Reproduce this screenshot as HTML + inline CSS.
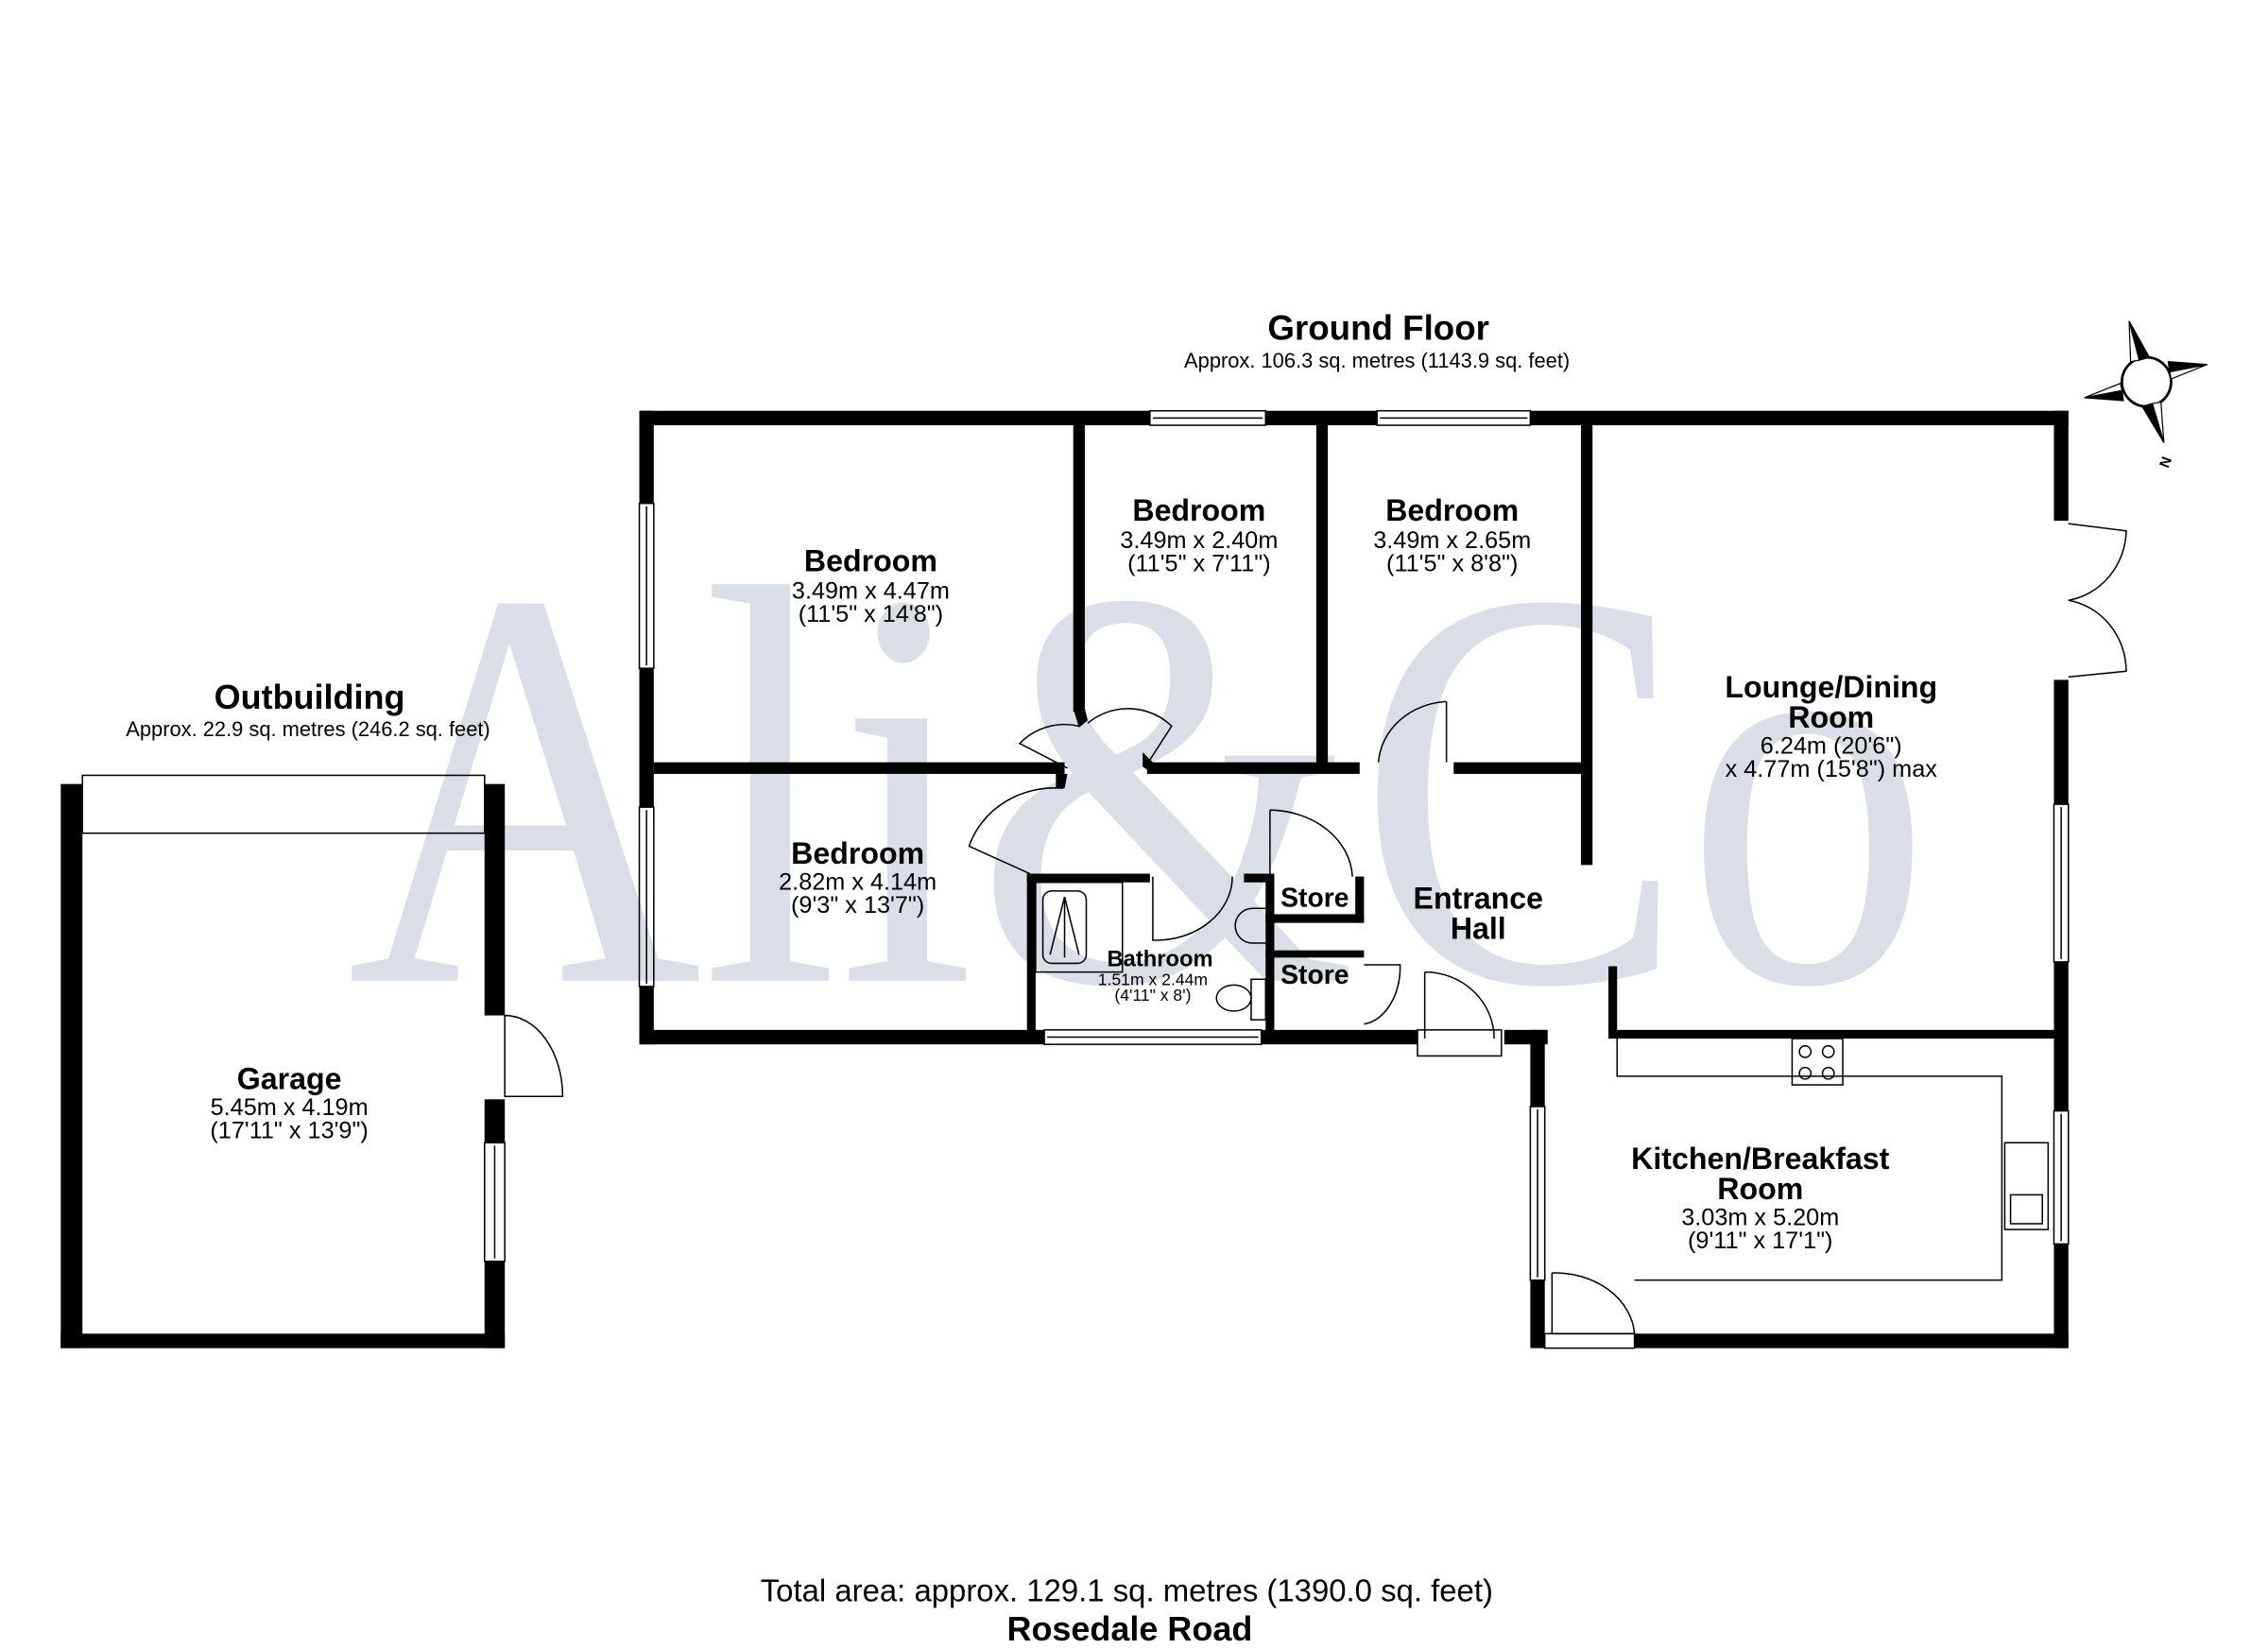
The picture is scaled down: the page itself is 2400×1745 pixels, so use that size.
<!DOCTYPE html>
<html><head><meta charset="utf-8"><style>html,body{margin:0;padding:0;background:#fff}svg{display:block}</style></head>
<body>
<svg width="2400" height="1745" viewBox="0 0 1568 1140" preserveAspectRatio="none" xmlns="http://www.w3.org/2000/svg" font-family="Liberation Sans, Arial, sans-serif">
<rect width="1568" height="1140" fill="#fff"/>
<text x="240" y="678" font-family="Liberation Serif, serif" font-size="395" fill="#d9dee7" textLength="1095" lengthAdjust="spacingAndGlyphs">Ali&amp;Co</text>

<g fill="#000">
<rect x="442" y="284" width="353" height="10"/>
<rect x="875" y="284" width="77" height="10"/>
<rect x="1058" y="284" width="372" height="10"/>
<rect x="442" y="284" width="10" height="64"/>
<rect x="442" y="462" width="10" height="96"/>
<rect x="442" y="682" width="10" height="40"/>
<rect x="442" y="712" width="280" height="10"/>
<rect x="872" y="712" width="108" height="10"/>
<rect x="1040" y="712" width="30" height="10"/>
<rect x="1420" y="284" width="10" height="76"/>
<rect x="1420" y="470" width="10" height="86"/>
<rect x="1420" y="665" width="10" height="103"/>
<rect x="1420" y="860" width="10" height="72"/>
<rect x="1058" y="712" width="10" height="53"/>
<rect x="1058" y="885" width="10" height="47"/>
<rect x="1130" y="922" width="300" height="10"/>
<rect x="1112" y="712" width="308" height="6"/>
<rect x="1112" y="668" width="6" height="50"/>
<rect x="742" y="294" width="8" height="198"/>
<polygon points="742,490 750,490 752,498 746,503"/>
<rect x="910" y="294" width="8" height="234"/>
<rect x="1093" y="294" width="8" height="304"/>
<rect x="452" y="527" width="284" height="8"/>
<polygon points="730,535 738,535 736,545 730,545"/>
<rect x="793" y="527" width="147" height="8"/>
<polygon points="790,520 797,527 797,535 790,530"/>
<rect x="1005" y="527" width="88" height="8"/>
<rect x="710" y="604" width="6" height="110"/>
<rect x="710" y="604" width="85" height="6"/>
<rect x="860" y="604" width="15" height="6"/>
<rect x="875" y="604" width="6" height="110"/>
<rect x="875" y="632" width="68" height="6"/>
<rect x="937" y="606" width="6" height="32"/>
<rect x="875" y="657" width="68" height="5"/>
<rect x="42" y="542" width="15" height="390"/>
<rect x="42" y="922" width="307" height="10"/>
<rect x="335" y="542" width="14" height="160"/>
<rect x="335" y="760" width="14" height="30"/>
<rect x="335" y="872" width="14" height="60"/>
</g>
<g fill="none" stroke="#000" stroke-width="1">
<rect x="795" y="284" width="80" height="10"/><line x1="797" y1="289" x2="873" y2="289"/>
<rect x="952" y="284" width="106" height="10"/><line x1="954" y1="289" x2="1056" y2="289"/>
<rect x="442" y="348" width="10" height="114"/><line x1="447" y1="350" x2="447" y2="460"/>
<rect x="442" y="558" width="10" height="124"/><line x1="447" y1="560" x2="447" y2="680"/>
<rect x="722" y="712" width="150" height="10"/><line x1="724" y1="717" x2="870" y2="717"/>
<rect x="1420" y="556" width="10" height="109"/><line x1="1425" y1="558" x2="1425" y2="663"/>
<rect x="1420" y="768" width="10" height="92"/><line x1="1425" y1="770" x2="1425" y2="858"/>
<rect x="1058" y="765" width="10" height="120"/><line x1="1063" y1="767" x2="1063" y2="883"/>
<rect x="335" y="790" width="14" height="82"/><line x1="342" y1="792" x2="342" y2="870"/>
<rect x="1068" y="922" width="62" height="10"/>
<rect x="57" y="536" width="278" height="40"/>
<path d="M1430 362 L1470 367 A 48 50 0 0 1 1430 415"/>
<path d="M1430 468 L1470 464 A 48 50 0 0 0 1430 415"/>
<path d="M349 702 L349 758 L389 758 A 40 56 0 0 0 349 702"/>
<path d="M738 531 L705 514 A 42 40 0 0 1 746 502"/>
<path d="M792 530 L810 502 A 42 40 0 0 0 752 500"/>
<path d="M712 604 L670 585 A 62 58 0 0 1 735 545"/>
<path d="M1000 485 L1000 527 M1000 485 A 50 45 0 0 0 953 527"/>
<path d="M797 606 L797 650 A 53 44 0 0 0 852 606"/>
<path d="M878 560 L878 606 M878 560 A 58 48 0 0 1 935 606"/>
<path d="M943 667 L968 667 A 28 40 0 0 1 943 708"/>
<path d="M985 672 L985 718 M985 672 A 48 46 0 0 1 1033 718"/>
<rect x="980" y="712" width="58" height="18"/>
<path d="M1073 880 L1073 922 L1130 922 A 55 45 0 0 0 1073 880"/>
<rect x="716" y="610" width="60" height="62"/>
<rect x="721" y="616" width="30" height="50" rx="6"/>
<line x1="736" y1="620" x2="736" y2="662"/><line x1="736" y1="620" x2="726" y2="660"/><line x1="736" y1="620" x2="746" y2="660"/>
<path d="M875 628 L866 628 A 12 12 0 0 0 866 652 L875 652"/>
<ellipse cx="853" cy="690" rx="12" ry="9"/>
<rect x="865" y="677" width="10" height="28"/>
<path d="M1118 718 L1118 744 L1384 744 L1384 885 L1130 885"/>
<rect x="1239" y="718" width="35" height="32"/>
<circle cx="1248" cy="727" r="4"/><circle cx="1264" cy="727" r="4"/><circle cx="1248" cy="742" r="4"/><circle cx="1264" cy="742" r="4"/>
<rect x="1386" y="790" width="30" height="60"/>
<rect x="1390" y="826" width="22" height="20"/>
<circle cx="1484" cy="264" r="17" stroke-width="1.8"/>
</g>
<g stroke="#000" stroke-width="0.8">
<polygon points="1472,222 1479,249 1473,250" fill="#fff"/>
<polygon points="1472,222 1479,249 1486,247" fill="#000"/>
<polygon points="1526,252 1500,257 1501,262" fill="#fff"/>
<polygon points="1526,252 1500,257 1499,250" fill="#000"/>
<polygon points="1496,306 1488,279 1494,278" fill="#fff"/>
<polygon points="1496,306 1488,279 1481,281" fill="#000"/>
<polygon points="1441,275 1467,270 1466,265" fill="#fff"/>
<polygon points="1441,275 1467,270 1468,277" fill="#000"/>
</g>
<text x="1492" y="322" font-size="10" font-weight="bold" transform="rotate(-70 1497 318)">N</text>

<g text-anchor="middle" fill="#000">
<text x="953" y="235" font-size="24" font-weight="bold">Ground Floor</text>
<text x="952" y="254" font-size="14.3">Approx. 106.3 sq. metres (1143.9 sq. feet)</text>
<text x="214" y="490" font-size="23.5" font-weight="bold">Outbuilding</text>
<text x="213" y="509" font-size="14.3">Approx. 22.9 sq. metres (246.2 sq. feet)</text>

<text x="602" y="395" font-size="21" font-weight="bold">Bedroom</text>
<text x="602" y="414" font-size="16.5">3.49m x 4.47m</text>
<text x="602" y="430" font-size="16.5">(11'5" x 14'8")</text>

<text x="829" y="360" font-size="21" font-weight="bold">Bedroom</text>
<text x="829" y="379" font-size="16.5">3.49m x 2.40m</text>
<text x="829" y="395" font-size="16.5">(11'5" x 7'11")</text>

<text x="1004" y="360" font-size="21" font-weight="bold">Bedroom</text>
<text x="1004" y="379" font-size="16.5">3.49m x 2.65m</text>
<text x="1004" y="395" font-size="16.5">(11'5" x 8'8")</text>

<text x="593" y="597" font-size="21" font-weight="bold">Bedroom</text>
<text x="593" y="615" font-size="16.5">2.82m x 4.14m</text>
<text x="593" y="631" font-size="16.5">(9'3" x 13'7")</text>

<text x="1266" y="482" font-size="21" font-weight="bold">Lounge/Dining</text>
<text x="1266" y="503" font-size="21" font-weight="bold">Room</text>
<text x="1266" y="521" font-size="16.5">6.24m (20'6")</text>
<text x="1266" y="537" font-size="16.5">x 4.77m (15'8") max</text>

<text x="1022" y="628" font-size="21" font-weight="bold">Entrance</text>
<text x="1022" y="649" font-size="21" font-weight="bold">Hall</text>

<text x="909" y="627" font-size="18.5" font-weight="bold">Store</text>
<text x="909" y="680" font-size="18.5" font-weight="bold">Store</text>

<text x="802" y="668" font-size="15.5" font-weight="bold">Bathroom</text>
<text x="797" y="681" font-size="11.5">1.51m x 2.44m</text>
<text x="797" y="692" font-size="11.5">(4'11" x 8')</text>

<text x="1217" y="808" font-size="21" font-weight="bold">Kitchen/Breakfast</text>
<text x="1217" y="829" font-size="21" font-weight="bold">Room</text>
<text x="1217" y="847" font-size="16.5">3.03m x 5.20m</text>
<text x="1217" y="863" font-size="16.5">(9'11" x 17'1")</text>

<text x="200" y="753" font-size="21" font-weight="bold">Garage</text>
<text x="200" y="771" font-size="16.5">5.45m x 4.19m</text>
<text x="200" y="787" font-size="16.5">(17'11" x 13'9")</text>

<text x="779" y="1107" font-size="21.5">Total area: approx. 129.1 sq. metres (1390.0 sq. feet)</text>
<text x="781" y="1134" font-size="23.5" font-weight="bold">Rosedale Road</text>
</g>
</svg>
</body></html>
